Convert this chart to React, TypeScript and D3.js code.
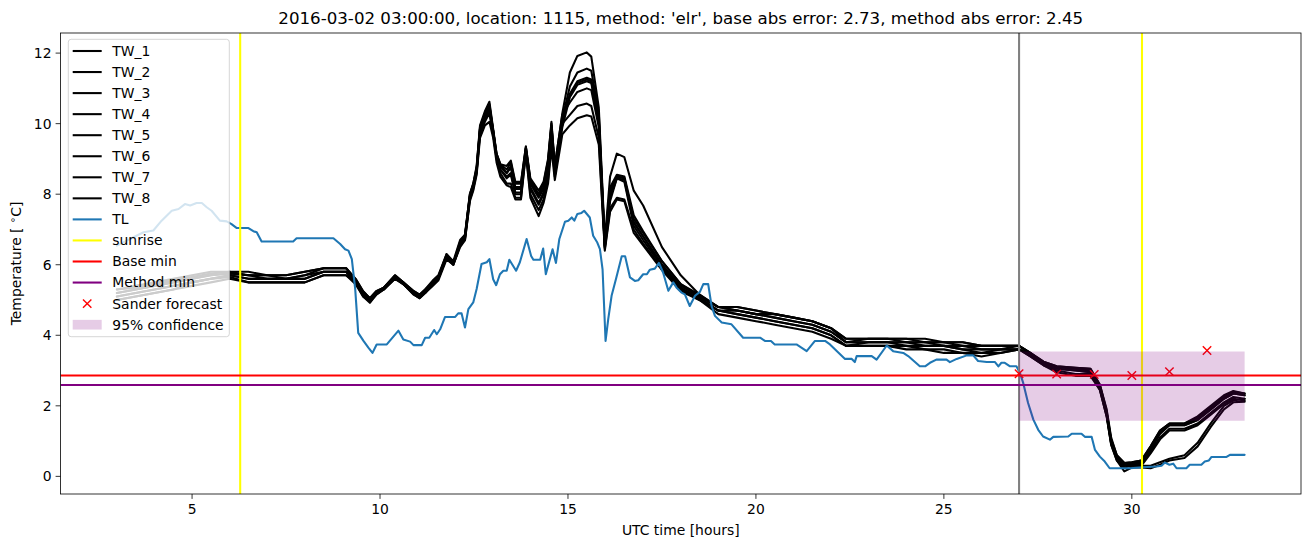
import React from 'react';
import * as d3 from 'd3';

// ---------------- data ----------------
const TITLE = "2016-03-02 03:00:00, location: 1115, method: 'elr', base abs error: 2.73, method abs error: 2.45";

const X_TICKS = [5, 10, 15, 20, 25, 30];
const Y_TICKS = [0, 2, 4, 6, 8, 10, 12];

const TL_HOURS = [
  3.0, 3.44, 3.71, 3.97, 4.19, 4.46, 4.64, 4.81, 4.95, 5.12, 5.26, 5.39, 5.52, 5.74, 5.92, 6.05, 6.19, 6.5, 6.63, 6.72,
  6.85, 7.69, 7.78, 8.76, 8.94, 9.07, 9.16, 9.25, 9.34, 9.42, 9.56, 9.69, 9.8, 9.91, 10.18, 10.49, 10.62, 10.8, 10.89, 11.11,
  11.2, 11.31, 11.44, 11.51, 11.6, 11.73, 12.0, 12.08, 12.17, 12.26, 12.35, 12.48, 12.57, 12.7, 12.84, 12.91, 13.01, 13.09, 13.19, 13.28,
  13.37, 13.44, 13.62, 13.72, 13.9, 14.02, 14.08, 14.26, 14.34, 14.41, 14.59, 14.68, 14.77, 14.92, 15.01, 15.1, 15.17, 15.25, 15.36, 15.43,
  15.58, 15.67, 15.78, 15.85, 15.92, 16.0, 16.07, 16.16, 16.28, 16.43, 16.52, 16.65, 16.78, 16.87, 17.0, 17.1, 17.18, 17.31, 17.42, 17.53,
  17.67, 17.8, 17.89, 18.02, 18.11, 18.24, 18.38, 18.51, 18.6, 18.73, 18.82, 18.91, 19.09, 19.35, 19.66, 20.11, 20.24, 20.4, 20.5, 21.08,
  21.21, 21.35, 21.57, 21.84, 21.97, 22.37, 22.55, 22.63, 22.68, 23.08, 23.21, 23.48, 23.65, 23.92, 24.05, 24.36, 24.5, 24.63, 24.8, 25.07,
  25.16, 25.34, 25.61, 25.78, 25.91, 26.14, 26.36, 26.45, 26.53, 26.62, 26.76, 26.93, 27.02, 27.11, 27.24, 27.38, 27.51, 27.64, 27.82, 27.91,
  28.31, 28.4, 28.66, 28.75, 28.93, 29.02, 29.15, 29.28, 29.41, 29.95, 30.3, 30.65, 30.79, 30.88, 31.0, 31.1, 31.19, 31.45, 31.54, 31.85,
  31.94, 32.05, 32.12, 32.52, 32.61, 33.0,
];
const TL_VALUES = [
  6.54, 6.78, 6.92, 6.97, 7.25, 7.53, 7.58, 7.72, 7.68, 7.75, 7.75, 7.63, 7.53, 7.25, 7.23, 7.15, 7.04, 7.04, 6.95, 6.92,
  6.66, 6.66, 6.75, 6.75, 6.59, 6.44, 6.4, 6.16, 5.31, 4.07, 3.84, 3.65, 3.5, 3.74, 3.74, 4.13, 3.88, 3.82, 3.72, 3.72,
  3.93, 3.93, 4.15, 4.03, 4.17, 4.52, 4.52, 4.62, 4.62, 4.22, 4.74, 4.93, 5.31, 6.02, 6.07, 6.16, 5.59, 5.42, 5.73, 5.83,
  5.83, 6.14, 5.83, 6.07, 6.73, 6.25, 6.14, 6.14, 6.46, 5.73, 6.44, 6.05, 6.73, 7.22, 7.25, 7.34, 7.25, 7.44, 7.47, 7.53,
  7.34, 6.82, 6.63, 6.44, 5.87, 3.84, 4.45, 5.12, 5.61, 6.24, 6.24, 5.64, 5.54, 5.56, 5.73, 5.73, 5.86, 5.89, 6.05, 5.78,
  5.26, 5.5, 5.35, 5.21, 5.16, 4.83, 5.12, 5.23, 5.45, 5.45, 4.83, 4.55, 4.36, 4.31, 3.93, 3.93, 3.84, 3.84, 3.74, 3.74,
  3.65, 3.55, 3.84, 3.84, 3.74, 3.33, 3.33, 3.24, 3.41, 3.41, 3.31, 3.71, 3.55, 3.5, 3.41, 3.12, 3.12, 3.22, 3.31, 3.31,
  3.24, 3.33, 3.43, 3.43, 3.27, 3.24, 3.24, 3.12, 3.22, 3.22, 3.12, 3.12, 2.94, 2.65, 2.08, 1.61, 1.32, 1.13, 1.04, 1.12,
  1.13, 1.21, 1.21, 1.12, 1.12, 0.75, 0.56, 0.42, 0.23, 0.23, 0.26, 0.28, 0.3, 0.39, 0.33, 0.36, 0.23, 0.23, 0.33, 0.33,
  0.42, 0.45, 0.55, 0.55, 0.61, 0.61,
];

const TW_HOURS = [
  3.0, 3.5, 4.0, 4.5, 5.0, 5.5, 6.0, 6.5, 7.0, 7.5,
  8.0, 8.5, 9.1, 9.35, 9.55, 9.73, 9.9, 10.1, 10.4, 10.62,
  10.9, 11.05, 11.2, 11.4, 11.55, 11.77, 11.95, 12.13, 12.26, 12.39,
  12.48, 12.57, 12.66, 12.79, 12.91, 13.01, 13.1, 13.2, 13.37, 13.48,
  13.6, 13.75, 13.88, 14.0, 14.22, 14.35, 14.47, 14.56, 14.65, 14.85,
  15.05, 15.25, 15.5, 15.62, 15.82, 15.98, 16.12, 16.3, 16.5, 16.75,
  17.0, 17.5, 18.0, 18.5, 19.0, 19.5, 20.0, 20.5, 21.0, 21.5,
  22.0, 22.4, 23.0, 23.5, 24.0, 24.5, 25.0, 25.5, 26.0, 26.5,
  27.0, 27.3, 27.65, 28.0, 28.5, 28.9, 29.15, 29.33, 29.45, 29.6,
  29.8, 30.0, 30.25, 30.5, 30.75, 31.0, 31.4, 31.75, 32.1, 32.45,
  32.7, 33.0,
];

const TW_1 = [
  5.3, 5.35, 5.45, 5.55, 5.65, 5.75, 5.8, 5.8, 5.7, 5.7,
  5.8, 5.9, 5.9, 5.6, 5.25, 5.05, 5.25, 5.35, 5.7, 5.5,
  5.25, 5.15, 5.3, 5.55, 5.7, 6.3, 6.05, 6.65, 6.85, 8.0,
  8.3, 8.8, 9.95, 10.35, 10.62, 9.85, 9.15, 8.85, 8.8, 8.95,
  8.35, 8.35, 9.35, 8.45, 8.1, 8.35, 9.0, 10.05, 8.8, 10.3,
  11.45, 11.92, 12.02, 11.9, 10.45, 6.7, 8.5, 9.15, 9.05, 8.1,
  7.68, 6.5, 5.7, 5.15, 4.8, 4.8, 4.7, 4.6, 4.5, 4.4,
  4.2, 3.9, 3.9, 3.9, 3.9, 3.9, 3.8, 3.8, 3.7, 3.7,
  3.7, 3.5, 3.25, 3.12, 3.08, 3.05, 2.6, 1.9, 1.1, 0.6,
  0.38, 0.4, 0.45, 0.85, 1.3, 1.5, 1.5, 1.7, 2.0, 2.3,
  2.42, 2.35,
];
const TW_2 = [
  5.2, 5.3, 5.4, 5.5, 5.6, 5.7, 5.75, 5.7, 5.7, 5.6,
  5.7, 5.9, 5.9, 5.55, 5.2, 5.0, 5.2, 5.35, 5.65, 5.5,
  5.2, 5.1, 5.25, 5.5, 5.65, 6.25, 6.05, 6.6, 6.8, 7.95,
  8.25, 8.7, 9.85, 10.25, 10.5, 9.8, 9.1, 8.8, 8.6, 8.8,
  8.15, 8.15, 9.3, 8.3, 7.9, 8.15, 8.9, 9.95, 8.7, 10.15,
  11.05, 11.45, 11.56, 11.5, 10.3, 6.6, 8.2, 8.55, 8.5, 7.4,
  6.95, 6.1, 5.45, 5.1, 4.8, 4.7, 4.6, 4.6, 4.5, 4.4,
  4.2, 3.8, 3.9, 3.9, 3.8, 3.8, 3.8, 3.7, 3.7, 3.7,
  3.7, 3.45, 3.2, 3.1, 3.05, 3.0, 2.55, 1.8, 1.0, 0.55,
  0.35, 0.38, 0.4, 0.75, 1.2, 1.45, 1.45, 1.6, 1.9, 2.2,
  2.35, 2.3,
];
const TW_3 = [
  5.1, 5.2, 5.3, 5.4, 5.5, 5.6, 5.7, 5.6, 5.6, 5.6,
  5.6, 5.8, 5.8, 5.5, 5.15, 4.95, 5.2, 5.3, 5.65, 5.45,
  5.2, 5.1, 5.2, 5.45, 5.6, 6.2, 6.0, 6.55, 6.75, 7.9,
  8.2, 8.65, 9.75, 10.15, 10.4, 9.75, 9.05, 8.7, 8.45, 8.55,
  8.0, 8.0, 9.25, 8.15, 7.7, 8.0, 8.6, 9.8, 8.6, 10.0,
  10.85, 11.2, 11.3, 11.25, 10.15, 6.55, 8.0, 8.5, 8.45, 7.2,
  6.8, 6.0, 5.35, 5.05, 4.7, 4.7, 4.6, 4.5, 4.4, 4.3,
  4.1, 3.8, 3.8, 3.8, 3.8, 3.7, 3.7, 3.6, 3.6, 3.6,
  3.6, 3.45, 3.2, 3.05, 3.0, 2.95, 2.5, 1.75, 0.95, 0.5,
  0.3, 0.35, 0.35, 0.7, 1.1, 1.35, 1.35, 1.5, 1.8, 2.1,
  2.25, 2.2,
];
const TW_4 = [
  5.0, 5.1, 5.2, 5.3, 5.5, 5.6, 5.65, 5.5, 5.5, 5.5,
  5.5, 5.7, 5.7, 5.5, 5.1, 4.95, 5.15, 5.3, 5.6, 5.45,
  5.15, 5.05, 5.2, 5.45, 5.6, 6.2, 6.0, 6.55, 6.7, 7.85,
  8.15, 8.6, 9.7, 10.05, 10.3, 9.7, 9.0, 8.6, 8.3, 8.3,
  7.9, 7.9, 9.2, 8.0, 7.55, 7.85, 8.4, 9.6, 8.5, 9.9,
  10.75, 11.1, 11.2, 11.15, 10.05, 6.5, 7.8, 8.45, 8.35, 7.1,
  6.7, 5.95, 5.3, 5.0, 4.7, 4.6, 4.5, 4.4, 4.3, 4.2,
  4.0, 3.7, 3.7, 3.7, 3.7, 3.6, 3.6, 3.5, 3.5, 3.5,
  3.6, 3.4, 3.15, 3.0, 2.9, 2.9, 2.45, 1.7, 0.9, 0.45,
  0.25, 0.3, 0.3, 0.3, 0.4, 0.5, 0.6, 0.95, 1.5, 2.0,
  2.15, 2.2,
];
const TW_5 = [
  5.3, 5.4, 5.5, 5.6, 5.7, 5.8, 5.8, 5.7, 5.7, 5.7,
  5.8, 5.9, 5.9, 5.6, 5.25, 5.05, 5.25, 5.35, 5.7, 5.5,
  5.25, 5.15, 5.3, 5.5, 5.65, 6.3, 6.1, 6.7, 6.85, 8.0,
  8.3, 8.75, 9.9, 10.3, 10.55, 9.8, 9.15, 8.85, 8.7, 8.9,
  8.3, 8.3, 9.35, 8.4, 8.0, 8.3, 8.95, 10.0, 8.8, 10.25,
  10.6, 10.9, 11.0, 10.95, 9.9, 6.5, 8.1, 8.5, 8.45, 7.3,
  6.9, 6.1, 5.45, 5.15, 4.8, 4.8, 4.7, 4.6, 4.5, 4.4,
  4.2, 3.9, 3.9, 3.9, 3.9, 3.8, 3.8, 3.8, 3.7, 3.7,
  3.7, 3.5, 3.25, 3.12, 3.08, 3.05, 2.6, 1.85, 1.05, 0.6,
  0.38, 0.4, 0.45, 0.85, 1.3, 1.5, 1.5, 1.65, 1.95, 2.25,
  2.4, 2.35,
];
const TW_6 = [
  5.1, 5.2, 5.3, 5.4, 5.5, 5.6, 5.7, 5.6, 5.6, 5.6,
  5.6, 5.8, 5.8, 5.5, 5.15, 5.0, 5.2, 5.3, 5.65, 5.45,
  5.2, 5.1, 5.25, 5.5, 5.6, 6.25, 6.05, 6.6, 6.8, 7.9,
  8.2, 8.65, 9.8, 10.15, 10.35, 9.7, 9.05, 8.7, 8.5, 8.6,
  8.05, 8.05, 9.25, 8.2, 7.75, 8.05, 8.7, 9.7, 8.6, 10.0,
  10.25, 10.5, 10.57, 10.5, 9.6, 6.45, 7.6, 7.9, 7.85, 7.0,
  6.6, 5.9, 5.3, 5.05, 4.7, 4.6, 4.5, 4.4, 4.3, 4.2,
  4.0, 3.7, 3.8, 3.8, 3.7, 3.7, 3.7, 3.6, 3.5, 3.6,
  3.6, 3.45, 3.2, 3.05, 3.0, 2.95, 2.5, 1.75, 0.95, 0.5,
  0.3, 0.3, 0.3, 0.65, 1.05, 1.3, 1.3, 1.45, 1.75, 2.05,
  2.2, 2.15,
];
const TW_7 = [
  5.0, 5.1, 5.2, 5.3, 5.4, 5.5, 5.6, 5.5, 5.5, 5.5,
  5.5, 5.7, 5.7, 5.45, 5.1, 4.92, 5.15, 5.3, 5.6, 5.45,
  5.15, 5.05, 5.2, 5.4, 5.55, 6.15, 6.0, 6.5, 6.7, 7.8,
  8.1, 8.55, 9.6, 9.95, 10.05, 9.6, 8.9, 8.5, 8.25, 8.2,
  7.85, 7.85, 9.15, 7.9, 7.38, 7.75, 8.3, 9.3, 8.4, 9.7,
  9.95, 10.15, 10.24, 10.2, 9.4, 6.4, 7.5, 7.85, 7.8, 6.9,
  6.55, 5.85, 5.25, 5.0, 4.6, 4.5, 4.4, 4.3, 4.2, 4.1,
  3.9, 3.7, 3.7, 3.7, 3.6, 3.6, 3.5, 3.5, 3.4, 3.5,
  3.6, 3.4, 3.15, 2.95, 2.85, 2.85, 2.45, 1.7, 0.9, 0.45,
  0.14, 0.25, 0.25, 0.23, 0.33, 0.45, 0.52, 0.85, 1.4, 1.9,
  2.1, 2.12,
];
const TW_8 = [
  5.2, 5.3, 5.4, 5.5, 5.6, 5.7, 5.75, 5.7, 5.6, 5.6,
  5.7, 5.8, 5.8, 5.55, 5.2, 5.0, 5.2, 5.35, 5.65, 5.5,
  5.2, 5.1, 5.25, 5.5, 5.65, 6.25, 6.05, 6.6, 6.8, 7.95,
  8.25, 8.7, 9.85, 10.2, 10.45, 9.8, 9.1, 8.8, 8.6, 8.75,
  8.2, 8.2, 9.3, 8.35, 7.95, 8.2, 8.8, 9.9, 8.7, 10.1,
  10.8, 11.15, 11.25, 11.2, 10.1, 6.55, 7.9, 8.45, 8.4, 7.2,
  6.8, 6.0, 5.4, 5.1, 4.8, 4.7, 4.6, 4.5, 4.4, 4.3,
  4.1, 3.8, 3.8, 3.8, 3.8, 3.8, 3.7, 3.7, 3.6, 3.6,
  3.7, 3.5, 3.2, 3.1, 3.05, 3.0, 2.55, 1.8, 1.0, 0.55,
  0.35, 0.38, 0.4, 0.8, 1.25, 1.45, 1.45, 1.6, 1.9, 2.2,
  2.35, 2.3,
];

const TW_NAMES = ['TW_1', 'TW_2', 'TW_3', 'TW_4', 'TW_5', 'TW_6', 'TW_7', 'TW_8'];
const TW_SERIES = [TW_1, TW_2, TW_3, TW_4, TW_5, TW_6, TW_7, TW_8];

const SUNRISE_HOURS = [6.28, 30.27];
const FORECAST_START = 27.0;
const BASE_MIN = 2.86;
const METHOD_MIN = 2.59;
const SANDER_HOURS = [27, 28, 29, 30, 31, 32];
const SANDER_VALUES = [2.91, 2.9, 2.89, 2.86, 2.97, 3.57];
const CONF_HOURS = [27, 33];
const CONF_LOW = 1.58;
const CONF_HIGH = 3.54;

const LEGEND_LABELS = [...TW_NAMES, 'TL', 'sunrise', 'Base min', 'Method min', 'Sander forecast', '95% confidence'];

// ---------------- layout ----------------
const W = 1310;
const H = 547;
const M = { left: 60.5, right: 1301, top: 33, bottom: 494 };
const FONT = 'DejaVu Sans, sans-serif';
const BLUE = '#1f77b4';
const PURPLE = '#800080';
const LW = 2.08;

export default function App() {
  const x = d3.scaleLinear().domain([1.5, 34.5]).range([M.left, M.right]);
  const y = d3.scaleLinear().domain([-0.5, 12.57]).range([M.bottom, M.top]);

  const line = d3
    .line<[number, number]>()
    .x((d) => x(d[0]))
    .y((d) => y(d[1]));

  const twPaths = TW_SERIES.map((vals) => line(TW_HOURS.map((h, i) => [h, vals[i]] as [number, number])) || '');
  const tlPath = line(TL_HOURS.map((h, i) => [h, TL_VALUES[i]] as [number, number])) || '';

  const area = d3
    .area<number>()
    .x((d) => x(d))
    .y0(() => y(CONF_LOW))
    .y1(() => y(CONF_HIGH));
  const confPath = area(CONF_HOURS) || '';

  const xMark = (cx: number, cy: number, s: number, key: string | number) => (
    <g key={key} stroke="red" strokeWidth={1.4}>
      <line x1={cx - s} y1={cy - s} x2={cx + s} y2={cy + s} />
      <line x1={cx - s} y1={cy + s} x2={cx + s} y2={cy - s} />
    </g>
  );

  // legend
  const LG = { x0: 68.3, y0: 39.3, x1: 229.3, y1: 336.7, hx0: 72.7, hx1: 101.7, tx: 112.3, ry0: 51, step: 21.05 };
  const legendItem = (label: string, i: number) => {
    const cy = LG.ry0 + i * LG.step;
    let handle: React.ReactNode = null;
    if (i < 8) handle = <line x1={LG.hx0} x2={LG.hx1} y1={cy} y2={cy} stroke="black" strokeWidth={LW} />;
    else if (label === 'TL') handle = <line x1={LG.hx0} x2={LG.hx1} y1={cy} y2={cy} stroke={BLUE} strokeWidth={LW} />;
    else if (label === 'sunrise') handle = <line x1={LG.hx0} x2={LG.hx1} y1={cy} y2={cy} stroke="yellow" strokeWidth={LW} />;
    else if (label === 'Base min') handle = <line x1={LG.hx0} x2={LG.hx1} y1={cy} y2={cy} stroke="red" strokeWidth={LW} />;
    else if (label === 'Method min') handle = <line x1={LG.hx0} x2={LG.hx1} y1={cy} y2={cy} stroke={PURPLE} strokeWidth={LW} />;
    else if (label === 'Sander forecast') handle = xMark((LG.hx0 + LG.hx1) / 2, cy, 4.2, 'lgx');
    else handle = <rect x={LG.hx0} y={cy - 4.8} width={LG.hx1 - LG.hx0} height={9.7} fill={PURPLE} fillOpacity={0.2} />;
    return (
      <g key={label}>
        {handle}
        <text x={LG.tx} y={cy + 4.9} fontSize={13.9} fontFamily={FONT} fill="black">
          {label}
        </text>
      </g>
    );
  };

  return (
    <svg width={W} height={H} style={{ position: 'absolute', left: 0, top: 0, background: 'white' }} xmlns="http://www.w3.org/2000/svg">
      <rect x={0} y={0} width={W} height={H} fill="white" />
      <defs>
        <clipPath id="plotclip">
          <rect x={M.left} y={M.top} width={M.right - M.left} height={M.bottom - M.top} />
        </clipPath>
      </defs>
      <g clipPath="url(#plotclip)">
        {twPaths.map((p, i) => (
          <path key={TW_NAMES[i]} d={p} fill="none" stroke="black" strokeWidth={LW} strokeLinejoin="round" strokeLinecap="round" />
        ))}
        <path d={tlPath} fill="none" stroke={BLUE} strokeWidth={LW} strokeLinejoin="round" strokeLinecap="round" />
        {SUNRISE_HOURS.map((h) => (
          <line key={h} x1={x(h)} x2={x(h)} y1={M.top} y2={M.bottom} stroke="yellow" strokeWidth={LW} />
        ))}
        <line x1={x(FORECAST_START)} x2={x(FORECAST_START)} y1={M.top} y2={M.bottom} stroke="gray" strokeWidth={LW} />
        <line x1={M.left} x2={M.right} y1={y(BASE_MIN)} y2={y(BASE_MIN)} stroke="red" strokeWidth={LW} />
        <line x1={M.left} x2={M.right} y1={y(METHOD_MIN)} y2={y(METHOD_MIN)} stroke={PURPLE} strokeWidth={LW} />
        {SANDER_HOURS.map((h, i) => xMark(x(h), y(SANDER_VALUES[i]), 4.2, 's' + i))}
        <path d={confPath} fill={PURPLE} fillOpacity={0.2} stroke="none" />
      </g>

      {/* axes frame */}
      <rect x={M.left} y={M.top} width={M.right - M.left} height={M.bottom - M.top} fill="none" stroke="black" strokeWidth={0.8} />

      {/* x ticks */}
      {X_TICKS.map((t) => (
        <g key={'x' + t}>
          <line x1={x(t)} x2={x(t)} y1={M.bottom} y2={M.bottom + 4.9} stroke="black" strokeWidth={0.8} />
          <text x={x(t)} y={M.bottom + 20} textAnchor="middle" fontSize={13.9} fontFamily={FONT} fill="black">
            {t}
          </text>
        </g>
      ))}
      {/* y ticks */}
      {Y_TICKS.map((t) => (
        <g key={'y' + t}>
          <line x1={M.left - 4.9} x2={M.left} y1={y(t)} y2={y(t)} stroke="black" strokeWidth={0.8} />
          <text x={M.left - 9} y={y(t) + 5} textAnchor="end" fontSize={13.9} fontFamily={FONT} fill="black">
            {t}
          </text>
        </g>
      ))}

      {/* labels */}
      <text x={(M.left + M.right) / 2} y={535} textAnchor="middle" fontSize={13.9} fontFamily={FONT} fill="black">
        UTC time [hours]
      </text>
      <text
        transform={`translate(21, ${(M.top + M.bottom) / 2}) rotate(-90)`}
        textAnchor="middle"
        fontSize={13.9}
        fontFamily={FONT}
        fill="black"
      >
        Temperature [ <tspan fontSize={10} dy={-5.5}>∘</tspan>
        <tspan dy={5.5}>C]</tspan>
      </text>
      <text x={(M.left + M.right) / 2} y={24} textAnchor="middle" fontSize={16.67} fontFamily={FONT} fill="black">
        {TITLE}
      </text>

      {/* legend */}
      <rect
        x={LG.x0}
        y={LG.y0}
        width={LG.x1 - LG.x0}
        height={LG.y1 - LG.y0}
        rx={2.8}
        ry={2.8}
        fill="white"
        fillOpacity={0.8}
        stroke="#cccccc"
        strokeOpacity={0.8}
        strokeWidth={1}
      />
      {LEGEND_LABELS.map((l, i) => legendItem(l, i))}
    </svg>
  );
}
